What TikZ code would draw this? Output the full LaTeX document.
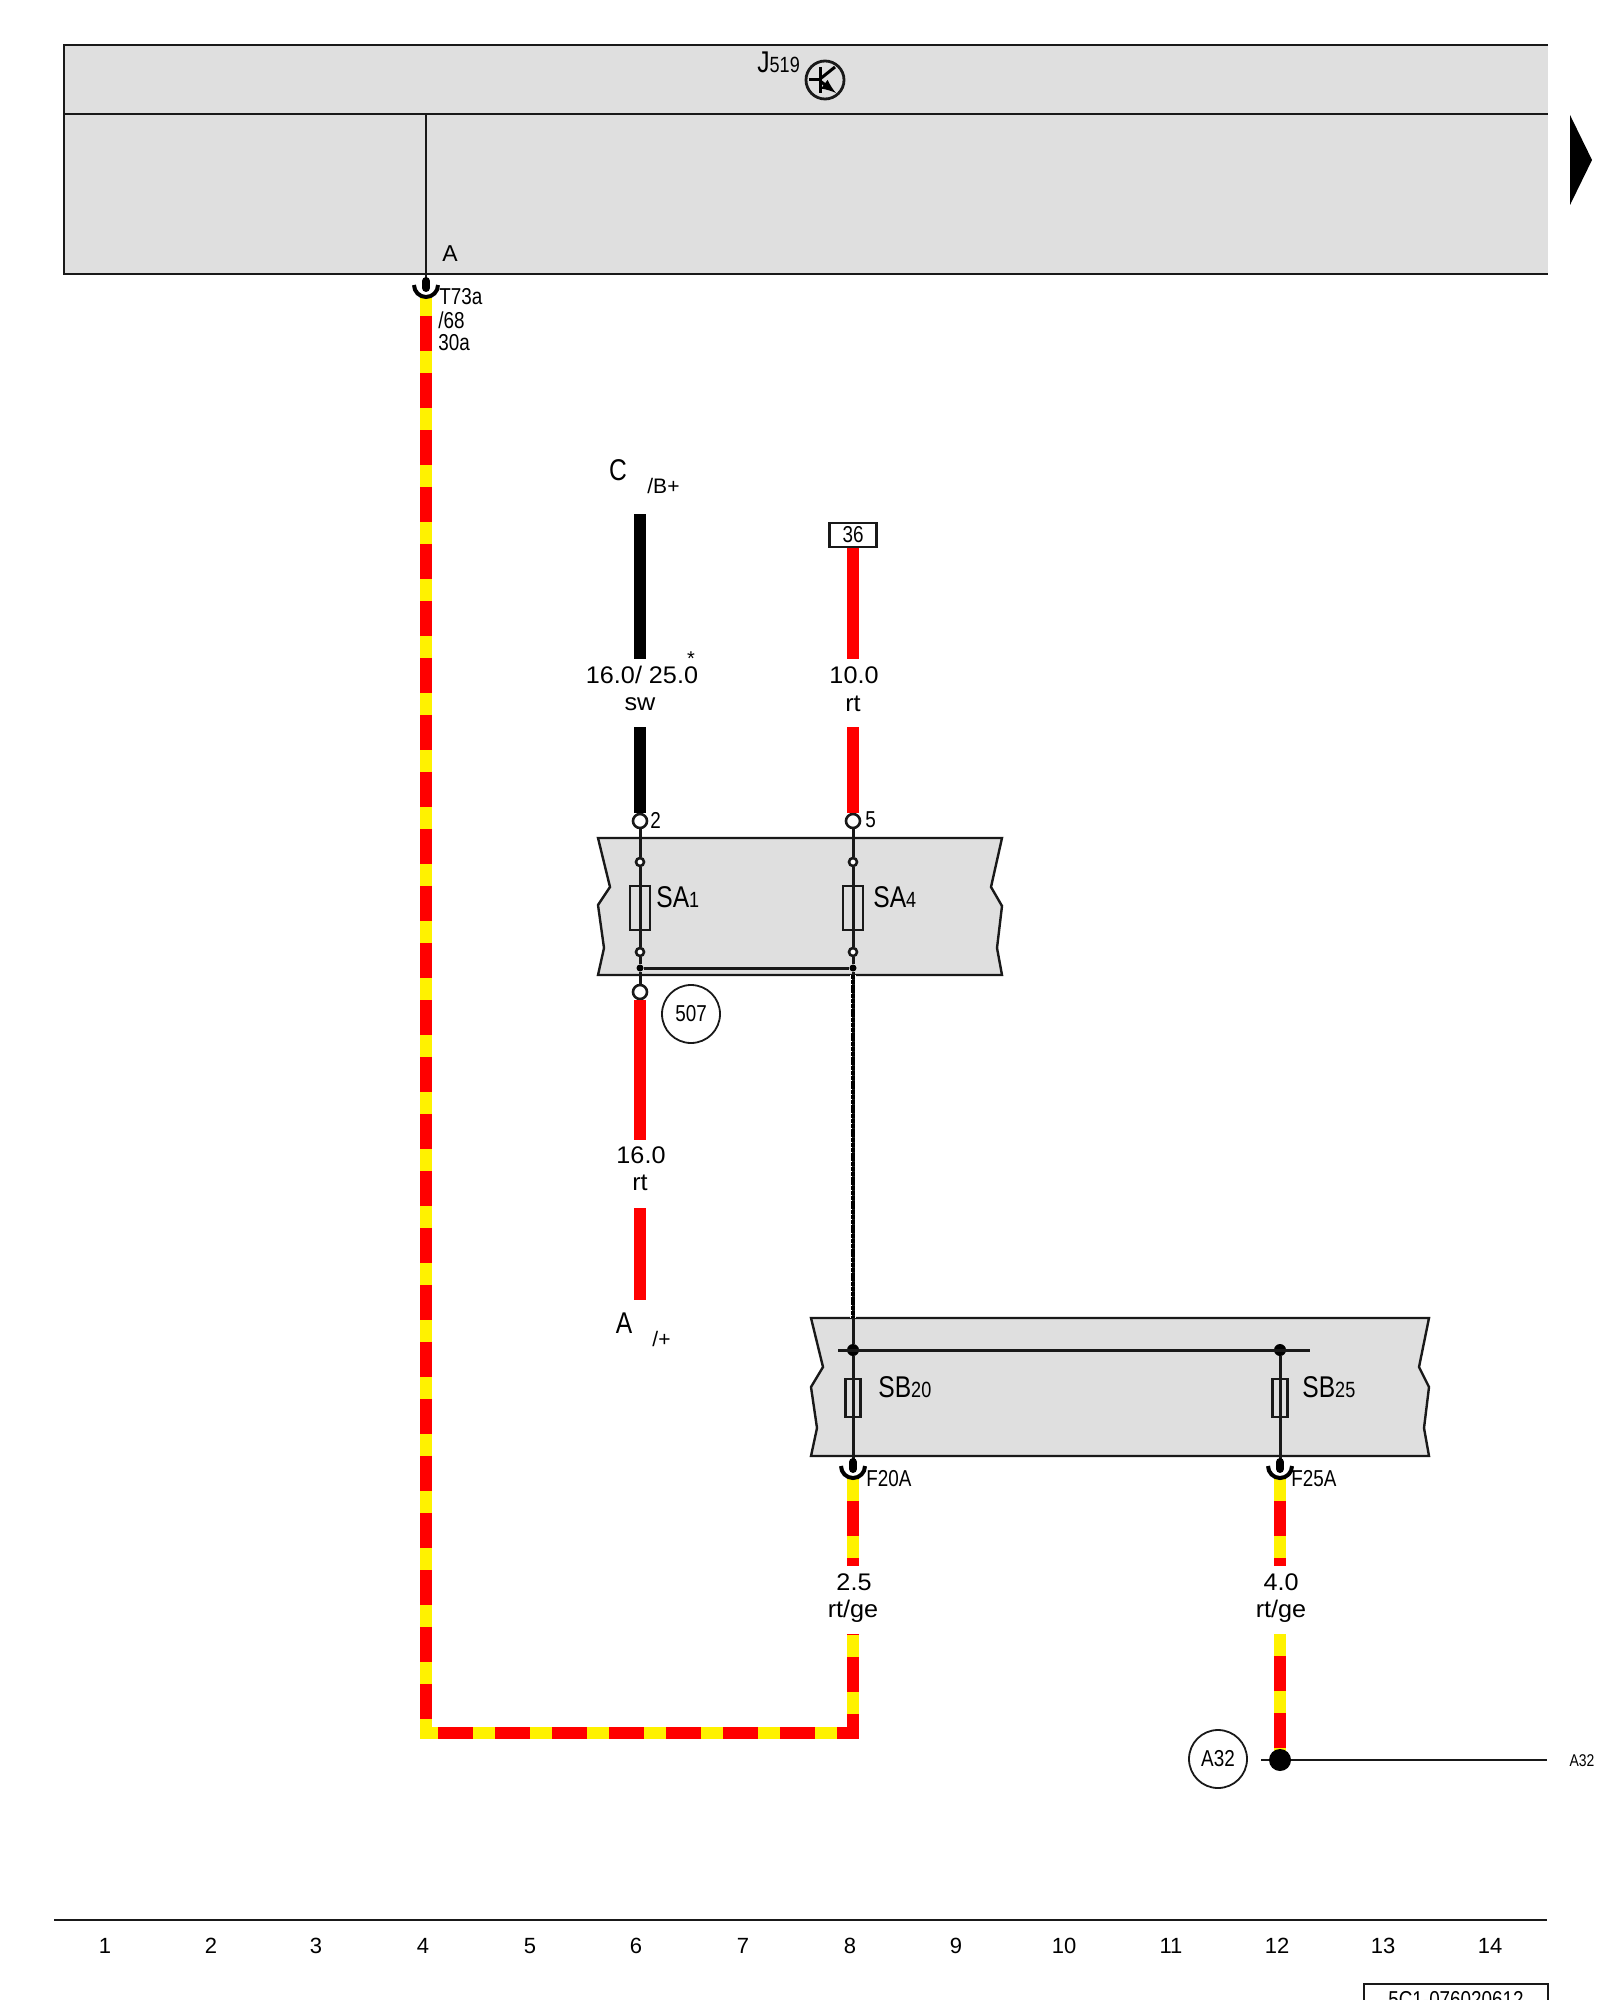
\documentclass[tikz,border=0pt]{standalone}
\usepackage{fontspec}
\setmainfont{Liberation Sans}
\newfontfamily\narrowfont[FakeStretch=0.82]{Liberation Sans}
\newfontfamily\widefont[FakeStretch=1.05]{Liberation Sans}
\newcommand{\subtag}[1]{{\fontsize{11}{11}\selectfont #1}}

\tikzset{
    stripewire/.style={line width=6pt, red},
    stripedash/.style={line width=6pt, yellow, dash pattern=on 11pt off 17.5pt},
    blackwire/.style={line width=6pt, black},
    redwire/.style={line width=6pt, red},
    thinline/.style={line width=1.5pt, black!90},
    hairline/.style={line width=1.4pt, black!90},
    cupline/.style={line width=2pt, black},
    boxline/.style={line width=1.2pt, black!90, fill=black!12.5},
    fuse/.style={draw=black!90, line width=1.4pt, rectangle, minimum width=#1, minimum height=22pt, inner sep=0pt},
    terminal/.style={draw=black!90, fill=white, line width=1.3pt, circle, minimum size=7pt, inner sep=0pt},
    joint/.style={draw=black!90, fill=white, line width=1.3pt, circle, minimum size=4pt, inner sep=0pt},
    dot/.style={fill=black, circle, minimum size=#1, inner sep=0pt},
    ringlabel/.style={draw=black!90, line width=.9pt, circle, minimum size=29pt, inner sep=0pt, font=\narrowfont\fontsize{11.5}{11.5}\selectfont},
    gauge/.style={font=\widefont\fontsize{12}{12}\selectfont, inner sep=0pt},
    tag/.style={font=\narrowfont\fontsize{11.5}{11.5}\selectfont, inner sep=0pt},
    bigtag/.style={font=\narrowfont\fontsize{15}{15}\selectfont, inner sep=0pt},
    column/.style={font=\fontsize{11}{11}\selectfont, inner sep=0pt}
}

\begin{document}
\begin{tikzpicture}[x=0.5pt, y=-0.5pt]
    \useasboundingbox (0, 0) rectangle (1600, 2000);
    \clip (0, 0) rectangle (1600, 2000);

    % J519 unit
    \fill[black!12.5] (64, 45) rectangle (1548, 274);
    \draw[boxline, fill=none] (1548, 45) -- (64, 45) -- (64, 274) -- (1548, 274);
    \draw[boxline, fill=none] (64, 114) -- (1548, 114);
    \node[anchor=base west, bigtag] (j519) at (757, 73) {J\subtag{519}};
    \node[draw=black!90, line width=1.4pt, circle, minimum size=19pt, inner sep=0pt] (relay) at (825, 80) {};
    \draw[line width=1.5pt] (820, 67) -- (820, 93);
    \draw[line width=1.5pt] (809, 80) -- (820, 80);
    \draw[line width=1.5pt] (820, 79) -- (835, 67);
    \draw[line width=1.5pt, -latex] (820, 81) -- (836, 93);
    \fill[black] (1570, 115) -- (1592, 160) -- (1570, 205) -- cycle;

    % long striped wire
    \coordinate (top1) at (426, 114);
    \coordinate (pin1) at (426, 285);
    \coordinate (w1) at (426, 298);
    \coordinate (w2) at (426, 1733);
    \coordinate (w2b) at (420, 1733);
    \coordinate (w3) at (853, 1733);
    \coordinate (w4) at (853, 1634);
    \draw[stripewire] (w1) -- (w2) -- (w3) -- (w4);
    \draw[stripedash, dash phase=2pt] (w1) -- (w2);
    \draw[stripedash, dash phase=2pt] (w2b) -- (w3) -- (w4);
    \draw[hairline] (top1) -- (pin1);
    \draw[line width=4pt, line cap=round] (426, 281) -- (426, 288);
    \draw[cupline] (pin1) ++(-6pt, 0) arc[start angle=180, end angle=360, radius=6pt];
    \node[anchor=west, font=\fontsize{11.5}{11.5}\selectfont, inner sep=0pt] (pina) at (442, 254) {A};
    \node[anchor=west, tag] (t73a) at (439, 297) {T73a};
    \node[anchor=west, tag] (t68) at (438, 320) {/68};
    \node[anchor=west, tag] (t30a) at (438, 343) {30a};

    % SA fuse box
    \draw[boxline] (598, 838) -- (1002, 838) -- (991, 887) -- (1002, 906) -- (997, 948) -- (1002, 975)
        -- (598, 975) -- (604, 948) -- (598, 905) -- (610, 887) -- cycle;
    \coordinate (cw1) at (640, 514);
    \coordinate (cw2) at (640, 659);
    \coordinate (cw3) at (640, 727);
    \coordinate (rw1) at (853, 547);
    \coordinate (rw2) at (853, 659);
    \coordinate (rw3) at (853, 727);
    \node[terminal] (t2) at (640, 821) {};
    \node[terminal] (t5) at (853, 821) {};
    \node[joint] (j1) at (640, 862) {};
    \node[joint] (j2) at (853, 862) {};
    \node[joint] (j3) at (640, 952) {};
    \node[joint] (j4) at (853, 952) {};
    \node[dot=3.5pt] (d1) at (640, 968) {};
    \node[dot=3.5pt] (d2) at (853, 968) {};
    \node[terminal] (t507) at (640, 992) {};
    \node[fuse=10pt] (sa1) at (640, 908) {};
    \node[fuse=10pt] (sa4) at (853, 908) {};
    \draw[blackwire] (cw1) -- (cw2);
    \draw[blackwire] (cw3) -- (t2);
    \draw[redwire] (rw1) -- (rw2);
    \draw[redwire] (rw3) -- (t5);
    \draw[thinline] (t2) -- (j1);
    \draw[thinline] (t5) -- (j2);
    \draw[thinline] (j1) -- (j3);
    \draw[thinline] (j2) -- (j4);
    \draw[thinline] (j3) -- (d1);
    \draw[thinline] (j4) -- (d2);
    \draw[thinline] (d1) -- (t507);
    \draw[thinline] (d1) -- (d2);
    \node[anchor=west, tag] (n2) at (650, 820) {2};
    \node[anchor=west, tag] (n5) at (865, 820) {5};
    \node[anchor=base west, bigtag] (sa1label) at (656, 907) {SA\subtag{1}};
    \node[anchor=base west, bigtag] (sa4label) at (873, 907) {SA\subtag{4}};
    \node[ringlabel] (c507) at (691, 1014) {507};

    % feeds above the box
    \node[bigtag] (clabel) at (618, 470) {C};
    \node[anchor=west, font=\fontsize{10.5}{10.5}\selectfont, inner sep=0pt] (bplus) at (647, 486) {/B+};
    \node[draw=black!90, line width=1.2pt, minimum width=23.5pt, minimum height=12pt, inner sep=0pt, font=\narrowfont\fontsize{11.5}{11.5}\selectfont] (f36) at (853, 535) {36};
    \node[gauge] (g160) at (642, 675) {16.0/ 25.0};
    \node[font=\fontsize{10}{10}\selectfont, inner sep=0pt] (star) at (691, 659) {*};
    \node[gauge] (sw) at (640, 704) {sw};
    \node[gauge] (g100) at (854, 675) {10.0};
    \node[gauge] (rt1) at (853, 704) {rt};

    % red wire below the box
    \coordinate (aw1) at (640, 1140);
    \coordinate (aw2) at (640, 1208);
    \coordinate (aw3) at (640, 1300);
    \draw[redwire] (t507) -- (aw1);
    \draw[redwire] (aw2) -- (aw3);
    \node[gauge] (g16) at (641, 1155) {16.0};
    \node[gauge] (rt2) at (640, 1183) {rt};
    \node[bigtag] (alabel) at (624, 1323) {A};
    \node[anchor=west, font=\fontsize{10.5}{10.5}\selectfont, inner sep=0pt] (aplus) at (652, 1339) {/+};

    % short striped wires
    \coordinate (u1) at (853, 1479);
    \coordinate (u2) at (853, 1566);
    \coordinate (v1) at (1280, 1479);
    \coordinate (v2) at (1280, 1566);
    \coordinate (v3) at (1280, 1634);
    \coordinate (v4) at (1280, 1760);
    \draw[stripewire] (u1) -- (u2);
    \draw[stripedash] (u1) -- (u2);
    \draw[stripewire] (v1) -- (v2);
    \draw[stripedash] (v1) -- (v2);
    \draw[stripewire] (v3) -- (v4);
    \draw[stripedash] (v3) -- (v4);
    \node[gauge] (g25) at (854, 1582) {2.5};
    \node[gauge] (rtge1) at (853, 1611) {rt/ge};
    \node[gauge] (g40) at (1281, 1582) {4.0};
    \node[gauge] (rtge2) at (1281, 1611) {rt/ge};

    % SB fuse box
    \draw[boxline] (811, 1318) -- (1429, 1318) -- (1419, 1367) -- (1429, 1387) -- (1424, 1428) -- (1429, 1456)
        -- (811, 1456) -- (817, 1428) -- (811, 1387) -- (823, 1367) -- cycle;
    \node[dot=6pt] (d3) at (853, 1350) {};
    \node[dot=6pt] (d4) at (1280, 1350) {};
    \coordinate (bus1) at (838, 1350);
    \coordinate (bus2) at (1310, 1350);
    \node[fuse=7.5pt, minimum height=19pt] (sb20) at (853, 1398) {};
    \node[fuse=7.5pt, minimum height=19pt] (sb25) at (1280, 1398) {};
    \coordinate (pin2) at (853, 1466);
    \coordinate (pin3) at (1280, 1466);
    \draw[thinline] (bus1) -- (bus2);
    \draw[white, line width=2.8pt] (853, 975) -- (853, 1318);
    \draw[thinline] (d2) -- (d3);
    \draw[line width=2.2pt, dash pattern=on 2pt off .4pt] (853, 975) -- (853, 1318);
    \draw[thinline] (d3) -- (pin2);
    \draw[thinline] (d4) -- (pin3);
    \draw[line width=4pt, line cap=round] (853, 1462) -- (853, 1469);
    \draw[line width=4pt, line cap=round] (1280, 1462) -- (1280, 1469);
    \draw[cupline] (pin2) ++(-6pt, 0) arc[start angle=180, end angle=360, radius=6pt];
    \draw[cupline] (pin3) ++(-6pt, 0) arc[start angle=180, end angle=360, radius=6pt];
    \node[anchor=base west, bigtag] (sb20label) at (878, 1397) {SB\subtag{20}};
    \node[anchor=base west, bigtag] (sb25label) at (1302, 1397) {SB\subtag{25}};
    \node[anchor=west, tag] (f20a) at (866, 1479) {F20A};
    \node[anchor=west, tag] (f25a) at (1291, 1479) {F25A};

    % A32 line
    \node[ringlabel] (ca32) at (1218, 1759) {A32};
    \coordinate (a1) at (1261, 1760);
    \coordinate (a2) at (1547, 1760);
    \draw[hairline] (a1) -- (a2);
    \node[dot=11pt] (d5) at (1280, 1760) {};
    \node[font=\narrowfont\fontsize{8.5}{8.5}\selectfont, inner sep=0pt] (a32end) at (1582, 1761) {A32};

    % column numbers
    \coordinate (ax1) at (54, 1920);
    \coordinate (ax2) at (1547, 1920);
    \draw[hairline] (ax1) -- (ax2);
    \node[column] (c1) at (105, 1946) {1};
    \node[column] (c2) at (211, 1946) {2};
    \node[column] (c3) at (316, 1946) {3};
    \node[column] (c4) at (423, 1946) {4};
    \node[column] (c5) at (530, 1946) {5};
    \node[column] (c6) at (636, 1946) {6};
    \node[column] (c7) at (743, 1946) {7};
    \node[column] (c8) at (850, 1946) {8};
    \node[column] (c9) at (956, 1946) {9};
    \node[column] (c10) at (1064, 1946) {10};
    \node[column] (c11) at (1171, 1946) {11};
    \node[column] (c12) at (1277, 1946) {12};
    \node[column] (c13) at (1383, 1946) {13};
    \node[column] (c14) at (1490, 1946) {14};

    % drawing number, cut by the page
    \node[draw=black!90, line width=1.2pt, minimum width=92pt, minimum height=16pt, inner sep=0pt, tag] (drawno) at (1456, 2000) {5C1-076020612};
\end{tikzpicture}
\end{document}
